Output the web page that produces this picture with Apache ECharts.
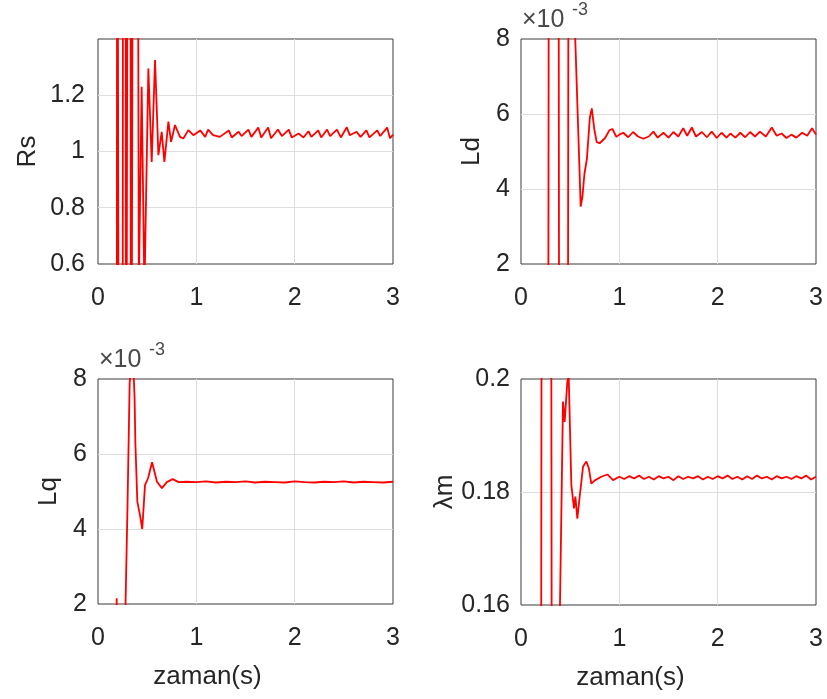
<!DOCTYPE html>
<html><head><meta charset="utf-8">
<script src="https://cdn.jsdelivr.net/npm/echarts/dist/echarts.min.js"></script>
<style>html,body{margin:0;padding:0;background:#fff}#c{width:827px;height:699px}</style>
</head><body><div id="c"></div>
<script>
// time (s), value pairs
const rsData = [[0,-1],[0.190,-1],[0.195,3],[0.210,3],[0.215,-1],[0.250,-1],[0.255,3],[0.280,3],[0.285,-1],[0.300,-1],
  [0.305,3],[0.330,3],[0.335,-1],[0.350,-1],[0.360,3],[0.400,3],[0.415,0.5],[0.444,1.23],[0.472,0.5],[0.512,1.295],
  [0.546,0.963],[0.580,1.325],[0.614,0.987],[0.648,1.07],[0.675,0.963],[0.716,1.106],[0.743,1.034],[0.783,1.094],[0.834,1.052],[0.868,1.046],
  [0.919,1.076],[0.970,1.058],[1.04,1.075],[1.09,1.052],[1.12,1.078],[1.17,1.058],[1.24,1.052],[1.33,1.075],[1.36,1.05],[1.43,1.07],
  [1.46,1.055],[1.53,1.078],[1.56,1.052],[1.63,1.085],[1.66,1.05],[1.73,1.085],[1.76,1.047],[1.83,1.078],[1.87,1.055],[1.94,1.078],
  [1.97,1.05],[2.04,1.064],[2.09,1.05],[2.14,1.072],[2.17,1.052],[2.24,1.075],[2.27,1.05],[2.33,1.078],[2.36,1.055],[2.43,1.078],
  [2.47,1.05],[2.53,1.086],[2.56,1.058],[2.63,1.07],[2.67,1.052],[2.73,1.075],[2.76,1.05],[2.84,1.075],[2.87,1.055],[2.94,1.085],
  [2.97,1.047],[3.00,1.06]];
// Ld, Lq in units of 1e-3
const ldData = [[0,0],[0.278,0],[0.282,10],[0.383,10],[0.387,0],[0.478,0],[0.482,10],[0.548,8.3],[0.607,3.53],[0.625,3.8],
  [0.645,4.4],[0.67,4.8],[0.70,5.9],[0.72,6.15],[0.745,5.6],[0.77,5.25],[0.80,5.22],[0.855,5.36],[0.90,5.57],[0.93,5.6],
  [0.97,5.39],[1.00,5.45],[1.04,5.50],[1.09,5.38],[1.14,5.52],[1.19,5.40],[1.245,5.34],[1.30,5.40],[1.346,5.53],[1.39,5.37],
  [1.448,5.50],[1.50,5.37],[1.55,5.52],[1.60,5.40],[1.65,5.62],[1.69,5.42],[1.737,5.64],[1.78,5.40],[1.84,5.52],[1.89,5.38],
  [1.94,5.53],[1.99,5.36],[2.04,5.50],[2.09,5.37],[2.13,5.48],[2.18,5.37],[2.23,5.50],[2.28,5.38],[2.33,5.52],[2.38,5.40],
  [2.43,5.53],[2.49,5.40],[2.55,5.64],[2.60,5.42],[2.65,5.48],[2.70,5.36],[2.75,5.45],[2.80,5.37],[2.86,5.50],[2.91,5.42],
  [2.96,5.62],[3.00,5.45]];
const lqData = [[0,0],[0.185,0],[0.19,2.15],[0.195,0],[0.27,0],[0.28,2.0],[0.30,4.6],[0.322,7.9],[0.34,8.4],[0.36,8.3],
  [0.372,7.5],[0.38,6.3],[0.40,4.73],[0.427,4.37],[0.45,4.0],[0.478,5.17],[0.51,5.36],[0.55,5.78],[0.60,5.26],[0.65,5.09],
  [0.70,5.25],[0.76,5.33],[0.82,5.25],[0.9,5.26],[1.0,5.25],[1.1,5.27],[1.2,5.24],[1.3,5.26],[1.4,5.25],[1.5,5.27],
  [1.6,5.24],[1.7,5.26],[1.8,5.25],[1.9,5.24],[2.0,5.27],[2.1,5.25],[2.2,5.24],[2.3,5.26],[2.4,5.25],[2.5,5.27],
  [2.6,5.24],[2.7,5.26],[2.8,5.25],[2.9,5.24],[3.0,5.26]];
const lmData = [[0,0.15],[0.205,0.15],[0.209,0.21],[0.308,0.21],[0.312,0.15],[0.388,0.15],[0.427,0.196],[0.444,0.1924],[0.471,0.1995],[0.485,0.2007],
  [0.512,0.1812],[0.539,0.1771],[0.553,0.1792],[0.573,0.1753],[0.597,0.1792],[0.631,0.1845],[0.665,0.1854],[0.69,0.1842],[0.715,0.1815],[0.755,0.1821],
  [0.817,0.1827],[0.878,0.1831],[0.936,0.1821],[1.0,0.1827],[1.05,0.1823],[1.10,0.1828],[1.15,0.1824],[1.20,0.1829],[1.25,0.1823],[1.30,0.1827],
  [1.35,0.1822],[1.40,0.1828],[1.45,0.1824],[1.50,0.1827],[1.55,0.1821],[1.60,0.1828],[1.65,0.1823],[1.70,0.1827],[1.75,0.1824],[1.80,0.1828],
  [1.85,0.1822],[1.90,0.1827],[1.95,0.1823],[2.00,0.1828],[2.05,0.1824],[2.10,0.1829],[2.15,0.1823],[2.20,0.1827],[2.25,0.1822],[2.30,0.1828],
  [2.35,0.1823],[2.40,0.1829],[2.45,0.1824],[2.50,0.1827],[2.55,0.1822],[2.60,0.1828],[2.65,0.1824],[2.70,0.1827],[2.75,0.1823],[2.80,0.1828],
  [2.85,0.1824],[2.90,0.1829],[2.95,0.1822],[3.00,0.1827]];

const xTicks = [0, 1, 2, 3];
const yNames = ['Rs', 'Ld', 'Lq', 'λm'];
const xName = 'zaman(s)';

const FONT = 'Liberation Sans';
const TXT = '#262626';
const TICK = 25, NAME = 26;

const grids = [
  {left: 98, top: 39, width: 295, height: 225},
  {left: 521, top: 39, width: 295, height: 225},
  {left: 98, top: 379, width: 295, height: 225},
  {left: 521, top: 379, width: 295, height: 226}
];
const yRanges = [
  {min: 0.6, max: 1.4, interval: 0.2, gap: 57, margin: 13},
  {min: 2, max: 8, interval: 2, gap: 36, margin: 11},
  {min: 2, max: 8, interval: 2, gap: 36, margin: 11},
  {min: 0.16, max: 0.2, interval: 0.02, gap: 59, margin: 11}
];

const chart = echarts.init(document.getElementById('c'), null, {renderer: 'canvas'});
const option = {
  backgroundColor: '#fff',
  animation: false,
  grid: grids.map(g => Object.assign({show: true, borderColor: '#3a3a3a', borderWidth: 1, backgroundColor: '#fff', containLabel: false}, g)),
  xAxis: grids.map((g, i) => ({
    type: 'value', gridIndex: i, min: xTicks[0], max: xTicks[xTicks.length - 1], interval: 1,
    axisLine: {show: false}, axisTick: {show: false},
    splitLine: {show: true, showMinLine: false, showMaxLine: false, lineStyle: {color: '#dedede', width: 1}},
    axisLabel: {margin: 22, fontSize: TICK, fontFamily: FONT, color: TXT},
    name: i >= 2 ? xName : '', nameLocation: 'middle', nameGap: 60,
    nameTextStyle: {fontSize: NAME, fontFamily: FONT, color: TXT, padding: [0, 76, 0, 0]}
  })),
  yAxis: grids.map((g, i) => ({
    type: 'value', gridIndex: i, min: yRanges[i].min, max: yRanges[i].max, interval: yRanges[i].interval,
    axisLine: {show: false}, axisTick: {show: false},
    splitLine: {show: true, showMinLine: false, showMaxLine: false, lineStyle: {color: '#dedede', width: 1}},
    axisLabel: {margin: yRanges[i].margin, fontSize: TICK, fontFamily: FONT, color: TXT,
      formatter: v => (i === 0 && v > 1.3) ? '' : String(Math.round(v * 1000) / 1000)},
    name: yNames[i], nameLocation: 'middle', nameGap: yRanges[i].gap, nameRotate: 90,
    nameTextStyle: {fontSize: NAME, fontFamily: FONT, color: TXT}
  })),
  series: [rsData, ldData, lqData, lmData].map((d, i) => ({
    type: 'line', xAxisIndex: i, yAxisIndex: i, data: d, showSymbol: false, clip: true,
    lineStyle: {color: '#ff0000', width: 1.8}
  })),
  graphic: [
    {type: 'text', left: 522, top: 8, style: {text: '×10', font: '25px "Liberation Sans"', fill: '#4a4a4a'}},
    {type: 'text', left: 572, top: 1, style: {text: '-3', font: '18px "Liberation Sans"', fill: '#4a4a4a'}},
    {type: 'text', left: 99, top: 348, style: {text: '×10', font: '25px "Liberation Sans"', fill: '#4a4a4a'}},
    {type: 'text', left: 149, top: 341, style: {text: '-3', font: '18px "Liberation Sans"', fill: '#4a4a4a'}}
  ]
};
chart.setOption(option);
</script>
</body></html>
